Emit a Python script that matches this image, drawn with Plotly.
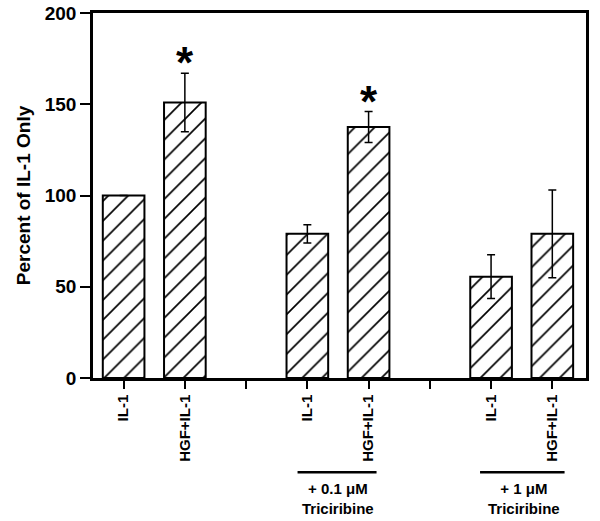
import plotly.graph_objects as go

# treatment labels and slot positions (slots 2 and 5 are gaps between groups)
labels = ["IL-1", "HGF+IL-1", "IL-1", "HGF+IL-1", "IL-1", "HGF+IL-1"]
slots = [0, 1, 3, 4, 6, 7]
percent = [100, 151, 79, 137.5, 55.5, 79]
sem = [None, 16, 5, 8.5, 12, 24]
signif = [False, True, False, True, False, False]
groups = ["+ 0.1 \u03bcM<br>Triciribine", "+ 1 \u03bcM<br>Triciribine"]
group_span = [(2.84, 4.13), (5.82, 7.2)]

font = "Liberation Sans, Arial, sans-serif"

fig = go.Figure()
fig.add_trace(go.Bar(
    x=slots, y=percent, width=0.68,
    marker=dict(color="white", line=dict(color="black", width=2),
                pattern=dict(shape="/", fgcolor="black", bgcolor="white",
                             fgopacity=1, size=14, solidity=0.12)),
    error_y=dict(type="data", array=sem, color="black", thickness=1.5, width=4),
    showlegend=False,
))

# significance stars
for xs, v, e, s in zip(slots, percent, sem, signif):
    if s:
        fig.add_annotation(x=xs, y=v + e, text="<b>*</b>", showarrow=False,
                           yanchor="bottom", yshift=-16,
                           font=dict(family=font, size=44, color="black"))

# group brackets under the axis
for (a, b), g in zip(group_span, groups):
    fig.add_shape(type="line", xref="x", yref="paper", x0=a, x1=b,
                  y0=-0.258, y1=-0.258, line=dict(color="black", width=2.5))
    fig.add_annotation(x=(a + b) / 2 + 0.02, xref="x", yref="paper", y=-0.275,
                       yanchor="top", text="<b>" + g + "</b>", showarrow=False,
                       font=dict(family=font, size=15, color="black"))

fig.update_xaxes(range=[-0.5, 7.55], tickmode="array", automargin=False,
                 tickvals=list(range(8)),
                 ticktext=[labels[slots.index(i)] if i in slots else "" for i in range(8)],
                 tickangle=-90, ticks="outside", ticklen=8, tickwidth=2,
                 tickcolor="black", showline=True, linewidth=2.5,
                 linecolor="black", mirror=True, showgrid=False, zeroline=False,
                 tickfont=dict(family=font, size=15, color="black", weight="bold"))
fig.update_yaxes(range=[0, 200], tickvals=[0, 50, 100, 150, 200], automargin=False,
                 ticks="outside", ticklen=10, tickwidth=2, tickcolor="black",
                 showline=True, linewidth=2.5, linecolor="black", mirror=True,
                 showgrid=False, zeroline=False,
                 tickfont=dict(family=font, size=19, color="black", weight="bold"),
                 title=dict(text="<b>Percent of IL-1 Only</b>", standoff=10,
                            font=dict(family=font, size=19, color="black")))

fig.update_layout(width=600, height=521, plot_bgcolor="white",
                  paper_bgcolor="white",
                  margin=dict(l=93, r=14, t=13, b=143))

# drop the default body margin so the figure sits at the page corner
fig.write_html("out.html", config={"displayModeBar": False},
               post_script="document.body.style.margin='0';")
